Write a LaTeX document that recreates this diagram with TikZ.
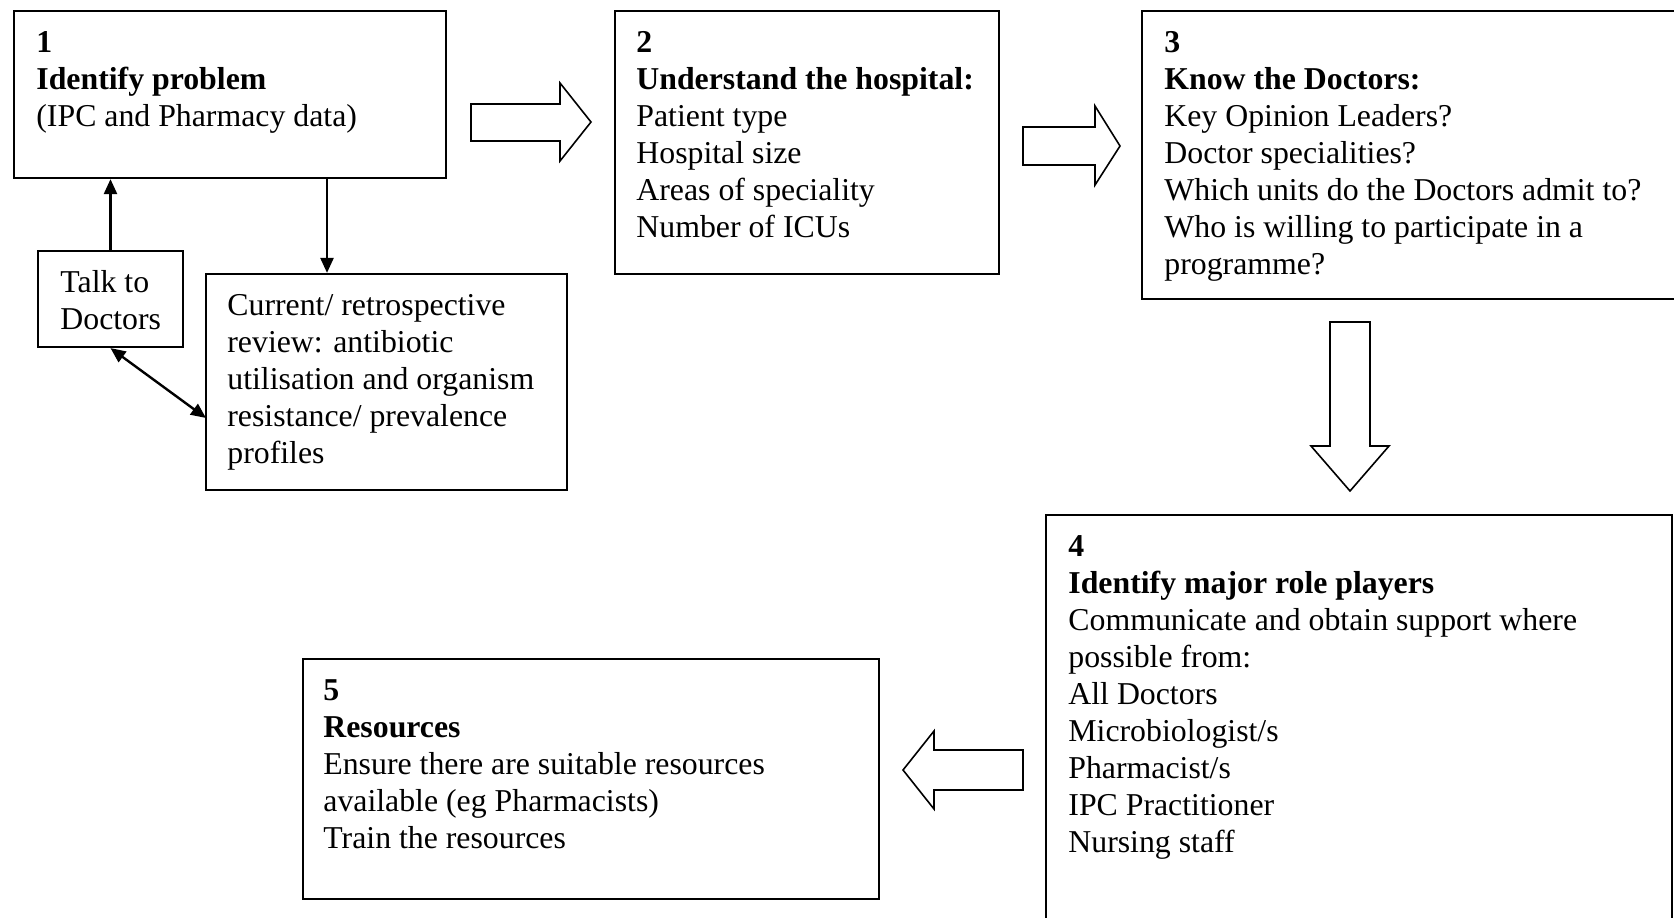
\documentclass[tikz,border=0pt]{standalone}
\usepackage{fontspec}
\setmainfont{Liberation Serif}
\usetikzlibrary{arrows.meta,fit}
\newcommand\fs{\fontsize{15.9}{18.5}\selectfont}
\tikzset{
  box/.style={draw, line width=1.1pt, inner sep=0pt},
  txt/.style={anchor=north west, inner sep=0pt, align=left, font=\fs},
  arr/.style={line width=1.2pt, -{Triangle[length=7.5pt,width=6.5pt]}},
  darr/.style={line width=1.2pt, {Triangle[length=7.5pt,width=6.5pt]}-{Triangle[length=7.5pt,width=6.5pt]}},
  blk/.style={draw, line width=0.8pt, fill=white, line join=miter}
}
\begin{document}
\begin{tikzpicture}[x=0.5pt,y=-0.5pt]
\useasboundingbox (0,0) rectangle (1674,917);
\clip (0,0) rectangle (1674,917);
\fill[white] (0,0) rectangle (1674,917);
% boxes
\node[box, fit={(14,11) (446,178)}] (b1) {};
\node[box, fit={(615,11) (999,274)}] (b2) {};
\node[box, fit={(1142,11) (1690,299)}] (b3) {};
\node[box, fit={(1046,515) (1672,940)}] (b4) {};
\node[box, fit={(303,659) (879,899)}] (b5) {};
\node[box, fit={(38,251) (183,347)}] (talk) {};
\node[box, fit={(206,274) (567,490)}] (cur) {};
% texts
\node[txt] (t1) at (36,26) {\strut\textbf{1}\\\textbf{Identify problem}\\(IPC and Pharmacy data)};
\node[txt] (t2) at (636,26) {\strut\textbf{2}\\\textbf{Understand the hospital:}\\Patient type\\Hospital size\\Areas of speciality\\Number of ICUs};
\node[txt] (t3) at (1164,26) {\strut\textbf{3}\\\textbf{Know the Doctors:}\\Key Opinion Leaders?\\Doctor specialities?\\Which units do the Doctors admit to?\\Who is willing to participate in a\\programme?};
\node[txt] (t4) at (1068,530) {\strut\textbf{4}\\\textbf{Identify major role players}\\Communicate and obtain support where\\possible from:\\All Doctors\\Microbiologist/s\\Pharmacist/s\\IPC Practitioner\\Nursing staff};
\node[txt] (t5) at (323,674) {\strut\textbf{5}\\\textbf{Resources}\\Ensure there are suitable resources\\available (eg Pharmacists)\\Train the resources};
\node[txt] (tt) at (60,266) {\strut Talk to\\Doctors};
\node[txt] (tc) at (227,289) {\strut Current/ retrospective\\review: antibiotic\\utilisation and organism\\resistance/ prevalence\\profiles};
% connectors
\coordinate (d1) at (327,178);
\draw[arr] (d1) -- (d1 |- cur.north);
\draw[arr] (talk.north) -- (talk.north |- b1.south);
\coordinate (dd) at (206,418);
\draw[darr] (talk.south) -- (dd);
% block arrows
\draw[blk] (471,104) -- (560,104) -- (560,83) -- (591,122) -- (560,161) -- (560,141) -- (471,141) -- cycle;
\draw[blk] (1023,127) -- (1095,127) -- (1095,106) -- (1120,146) -- (1095,185) -- (1095,165) -- (1023,165) -- cycle;
\draw[blk] (1330,322) -- (1370,322) -- (1370,446) -- (1389,446) -- (1350,491) -- (1311,446) -- (1330,446) -- cycle;
\draw[blk] (1023,750) -- (934,750) -- (934,731) -- (903,770) -- (934,809) -- (934,790) -- (1023,790) -- cycle;
\end{tikzpicture}
\end{document}
